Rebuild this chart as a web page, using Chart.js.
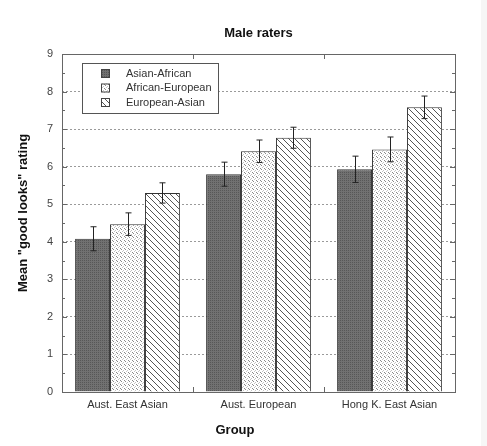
<!DOCTYPE html>
<html>
<head>
<meta charset="utf-8">
<script src="https://cdn.jsdelivr.net/npm/chart.js@4.4.1/dist/chart.umd.min.js"></script>
<style>
  html, body { margin: 0; padding: 0; background: #fff; }
  #wrap { width: 487px; height: 446px; position: relative; }
</style>
</head>
<body>
<div id="wrap"><canvas id="chart" width="487" height="446"></canvas></div>
<script>
// data
const groups = ['Aust. East Asian', 'Aust. European', 'Hong K. East Asian'];
const seriesNames = ['Asian-African', 'African-European', 'European-Asian'];
const asianAfrican = [4.08, 5.80, 5.93];
const africanEuropean = [4.47, 6.41, 6.46];
const europeanAsian = [5.30, 6.77, 7.58];
const errAsianAfrican = [0.32, 0.32, 0.35];
const errAfricanEuropean = [0.30, 0.30, 0.33];
const errEuropeanAsian = [0.27, 0.28, 0.30];
const yTicks = [0, 1, 2, 3, 4, 5, 6, 7, 8, 9];

const FONT = 'Liberation Sans, Arial, sans-serif';

function makePattern(kind) {
    const c = document.createElement('canvas');
    const size = kind === 'lines' ? 6 : 4;
    c.width = size; c.height = size;
    const g = c.getContext('2d');
    if (kind === 'dark') {
        g.fillStyle = '#717171';
        g.fillRect(0, 0, 4, 4);
        g.fillStyle = '#575757';
        g.fillRect(0, 0, 1, 1); g.fillRect(2, 2, 1, 1);
        g.fillRect(2, 0, 1, 1); g.fillRect(0, 2, 1, 1);
    } else if (kind === 'dots') {
        g.fillStyle = '#fff';
        g.fillRect(0, 0, 4, 4);
        g.fillStyle = '#8a8a8a';
        g.fillRect(0, 0, 1, 1); g.fillRect(1, 1, 1, 1);
        g.fillStyle = '#c4c4c4';
        g.fillRect(2, 3, 1, 1); g.fillRect(3, 2, 1, 1);
    } else {
        g.fillStyle = '#fff';
        g.fillRect(0, 0, 6, 6);
        g.strokeStyle = '#555';
        g.lineWidth = 1;
        g.beginPath();
        for (let k = -6; k <= 6; k += 6) {
            g.moveTo(k, 0); g.lineTo(k + 6, 6);
        }
        g.stroke();
    }
    return g.createPattern(c, 'repeat');
}

const fills = [makePattern('dark'), makePattern('dots'), makePattern('lines')];
const errors = [errAsianAfrican, errAfricanEuropean, errEuropeanAsian];

const framePlugin = {
    id: 'frame',
    beforeDraw(chart) {
        const ctx = chart.ctx;
        ctx.save();
        ctx.fillStyle = '#f6f6f6';
        ctx.fillRect(481, 0, 6, 446);
        ctx.restore();
    },
    afterDatasetsDraw(chart) {
        const ctx = chart.ctx;
        const { left, right, top, bottom } = chart.chartArea;
        const x = chart.scales.x, y = chart.scales.y;
        ctx.save();
        // error bars
        ctx.strokeStyle = '#222';
        ctx.lineWidth = 1;
        chart.data.datasets.forEach((ds, i) => {
            const meta = chart.getDatasetMeta(i);
            meta.data.forEach((bar, j) => {
                const v = ds.data[j], e = errors[i][j];
                const cx = Math.round(bar.x) + 0.5;
                const y1 = y.getPixelForValue(v + e), y2 = y.getPixelForValue(v - e);
                ctx.beginPath();
                ctx.moveTo(cx, y1); ctx.lineTo(cx, y2);
                ctx.moveTo(cx - 3, y1); ctx.lineTo(cx + 3, y1);
                ctx.moveTo(cx - 3, y2); ctx.lineTo(cx + 3, y2);
                ctx.stroke();
            });
        });
        // frame
        ctx.strokeStyle = '#666';
        ctx.strokeRect(Math.round(left) + 0.5, Math.round(top) + 0.5, Math.round(right - left), Math.round(bottom - top));
        // minor / major ticks on y, inward on both sides
        ctx.beginPath();
        for (let v = 0; v <= 9; v += 0.5) {
            const py = Math.round(y.getPixelForValue(v)) + 0.5;
            const len = Number.isInteger(v) ? 5 : 3;
            ctx.moveTo(left, py); ctx.lineTo(left + len, py);
            ctx.moveTo(right, py); ctx.lineTo(right - len, py);
        }
        // ticks between groups, top and bottom
        for (let i = 0; i < groups.length - 1; i++) {
            const px = Math.round((x.getPixelForValue(i) + x.getPixelForValue(i + 1)) / 2) + 0.5;
            ctx.moveTo(px, bottom); ctx.lineTo(px, bottom - 5);
            ctx.moveTo(px, top); ctx.lineTo(px, top + 5);
        }
        ctx.stroke();
        // legend box
        const lx = 82.5, ly = 63.5, lw = 136, lh = 50;
        ctx.fillStyle = '#fff';
        ctx.fillRect(lx, ly, lw, lh);
        ctx.strokeStyle = '#555';
        ctx.strokeRect(lx, ly, lw, lh);
        ctx.font = '11px ' + FONT;
        ctx.textBaseline = 'middle';
        seriesNames.forEach((name, i) => {
            const ry = 73 + i * 14.5;
            ctx.fillStyle = fills[i];
            ctx.fillRect(101, ry - 4, 9, 9);
            ctx.strokeStyle = '#444';
            ctx.strokeRect(101.5, ry - 3.5, 8, 8);
            ctx.fillStyle = '#333';
            ctx.fillText(name, 126, ry + 0.5);
        });
        // titles (the originals are not centred on the plot box)
        ctx.fillStyle = '#111';
        ctx.textAlign = 'center';
        ctx.font = 'bold 13px ' + FONT;
        ctx.fillText('Male raters', (left + right) / 2, 33);
        ctx.fillText('Group', 235, 430);
        ctx.translate(23, 213);
        ctx.rotate(-Math.PI / 2);
        ctx.fillText('Mean "good looks" rating', 0, 0);
        ctx.restore();
    }
};

new Chart(document.getElementById('chart'), {
    type: 'bar',
    data: {
        labels: groups,
        datasets: [asianAfrican, africanEuropean, europeanAsian].map((vals, i) => ({
            label: seriesNames[i],
            data: vals,
            backgroundColor: fills[i],
            borderColor: '#333',
            borderWidth: 1,
            borderSkipped: 'bottom',
            categoryPercentage: 0.8,
            barPercentage: 1.0
        }))
    },
    options: {
        responsive: false,
        animation: false,
        layout: { padding: { left: 0, right: 32, top: 54, bottom: 0 } },
        plugins: {
            legend: { display: false },
            tooltip: { enabled: false },
            title: { display: false }
        },
        scales: {
            x: {
                grid: { display: false, drawTicks: false },
                border: { display: false },
                ticks: { color: '#333', font: { family: FONT, size: 11 }, padding: 6 },
                afterFit(scale) { scale.height = 54; }
            },
            y: {
                min: 0, max: 9,
                afterBuildTicks(scale) { scale.ticks = yTicks.map(v => ({ value: v })); },
                grid: { color: '#9a9a9a', drawTicks: false, lineWidth: 1 },
                border: { display: false, dash: [2, 2] },
                ticks: { color: '#444', font: { family: FONT, size: 11 }, padding: 9 },
                afterFit(scale) { scale.width = 62; }
            }
        }
    },
    plugins: [framePlugin]
});
</script>
</body>
</html>
